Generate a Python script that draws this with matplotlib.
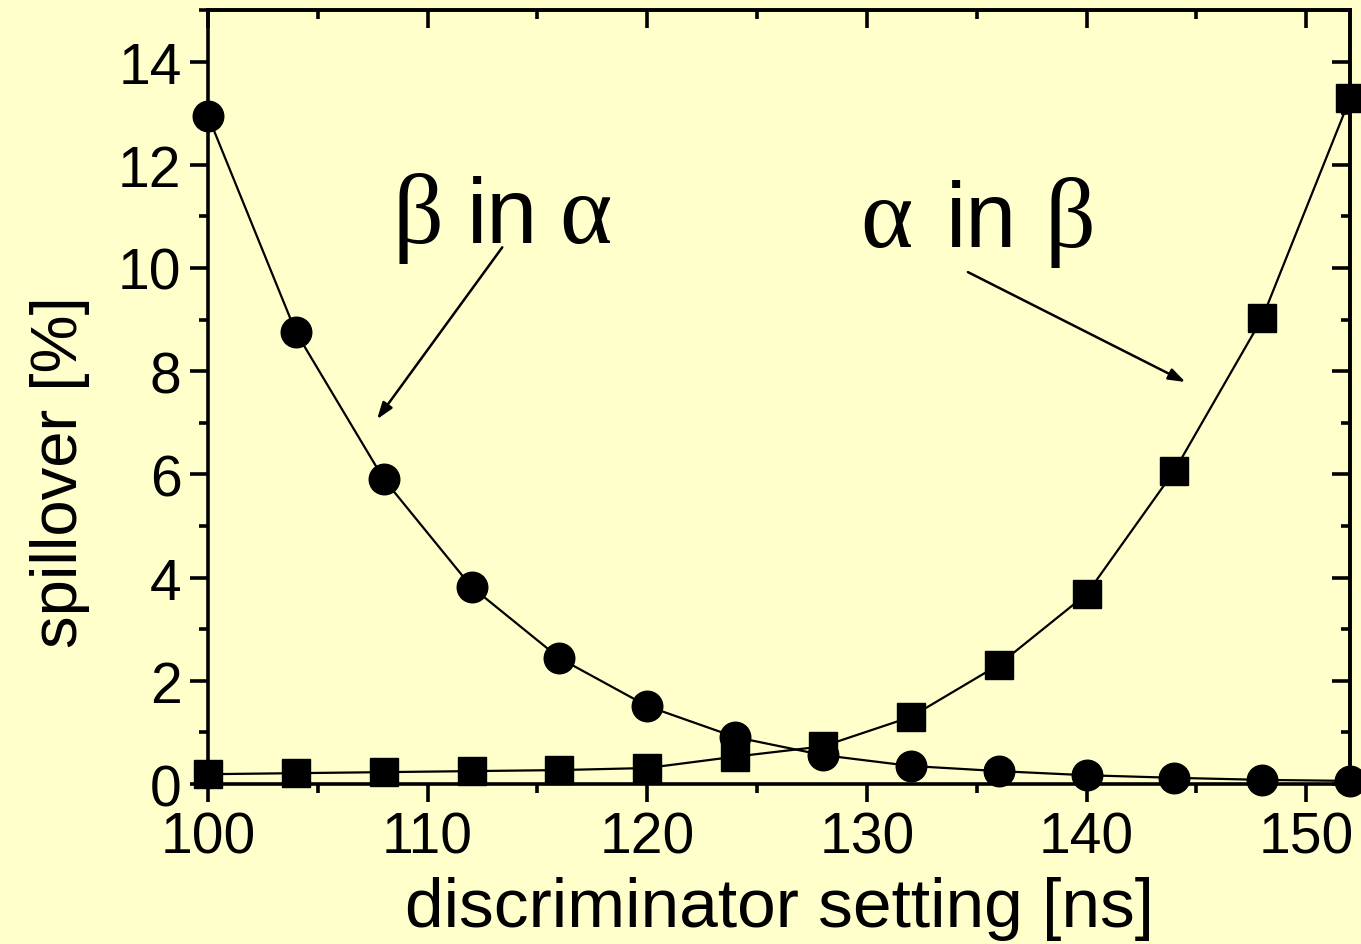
import matplotlib
matplotlib.use("Agg")
import matplotlib.pyplot as plt
from matplotlib.ticker import MultipleLocator

# discriminator setting [ns]
setting = [100, 104, 108, 112, 116, 120, 124, 128, 132, 136, 140, 144, 148, 152]
# beta in alpha spillover [%] (circles)
beta_in_alpha = [12.95, 8.76, 5.91, 3.82, 2.44, 1.51, 0.91, 0.56, 0.35, 0.25, 0.17, 0.12, 0.08, 0.06]
# alpha in beta spillover [%] (squares)
alpha_in_beta = [0.19, 0.21, 0.23, 0.25, 0.27, 0.31, 0.53, 0.73, 1.30, 2.31, 3.68, 6.07, 9.03, 13.29]

bg = '#FFFFCC'
sans = ['Liberation Sans', 'DejaVu Sans']
serif = ['Liberation Serif', 'DejaVu Serif']

plt.rcParams['font.family'] = sans

fig = plt.figure(figsize=(13.61, 9.45), dpi=100, facecolor=bg)
ax = fig.add_axes([0.1528, 0.1693, 0.992 - 0.1528, 0.9884 - 0.1693])
ax.set_facecolor(bg)

ax.plot(setting, beta_in_alpha, '-', color='black', lw=1.6, zorder=2)
ax.plot(setting, alpha_in_beta, '-', color='black', lw=1.6, zorder=2)
ax.plot(setting, beta_in_alpha, 'o', color='black', ms=22, zorder=3, clip_on=False)
ax.plot(setting, alpha_in_beta, 's', color='black', ms=19.5, zorder=4, clip_on=False)

ax.set_xlim(100, 152)
ax.set_ylim(0, 15)
ax.xaxis.set_major_locator(MultipleLocator(10))
ax.xaxis.set_minor_locator(MultipleLocator(5))
ax.yaxis.set_major_locator(MultipleLocator(2))
ax.yaxis.set_minor_locator(MultipleLocator(1))

for s in ax.spines.values():
    s.set_linewidth(2.6)
ax.tick_params(which='major', direction='out', length=13, width=2.6, labelsize=41, pad=6)
ax.tick_params(which='minor', direction='out', length=6.5, width=2.6)

# mirrored ticks pointing inward on top and right
top = ax.secondary_xaxis('top')
top.xaxis.set_major_locator(MultipleLocator(10))
top.xaxis.set_minor_locator(MultipleLocator(5))
top.tick_params(which='major', direction='in', length=13, width=2.6, labeltop=False)
top.tick_params(which='minor', direction='in', length=6.5, width=2.6)
top.spines['top'].set_linewidth(2.6)
right = ax.secondary_yaxis('right')
right.yaxis.set_major_locator(MultipleLocator(2))
right.yaxis.set_minor_locator(MultipleLocator(1))
right.tick_params(which='major', direction='in', length=13, width=2.6, labelright=False)
right.tick_params(which='minor', direction='in', length=6.5, width=2.6)
right.spines['right'].set_linewidth(2.6)

ax.set_xlabel('discriminator setting [ns]', fontsize=50, labelpad=8)
ax.set_ylabel('spillover [%]', fontsize=47)
ax.yaxis.set_label_coords(-0.103, 0.404)

# annotations
big = 66
greek = 72
ax.text(108.4, 10.5, '\u03b2', family=serif, fontsize=greek)
ax.text(111.8, 10.5, 'in', family=sans, fontsize=big)
ax.text(116.0, 10.5, '\u03b1', family=serif, fontsize=greek)
ax.text(129.7, 10.43, '\u03b1', family=serif, fontsize=greek)
ax.text(133.6, 10.43, 'in', family=sans, fontsize=big)
ax.text(138.1, 10.43, '\u03b2', family=serif, fontsize=greek)

arrow = dict(arrowstyle='-|>,head_length=1.0,head_width=0.35', color='black', lw=1.8,
             shrinkA=0, shrinkB=0)
ax.annotate('', xy=(107.7, 7.07), xytext=(113.4, 10.4), arrowprops=arrow)
ax.annotate('', xy=(144.5, 7.79), xytext=(134.6, 9.92), arrowprops=arrow)

fig.savefig('out.png', dpi=100, facecolor=bg)
